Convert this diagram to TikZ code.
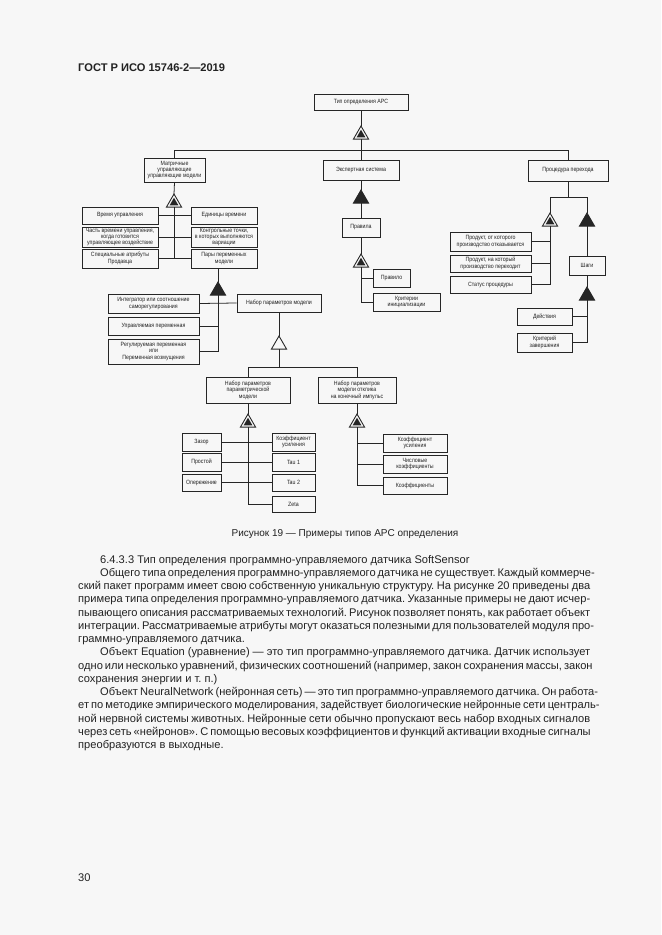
\documentclass[tikz,border=0pt]{standalone}
\usepackage{fontspec}
\setmainfont{Liberation Sans}
\newfontfamily\boxfont[FakeStretch=0.86]{Liberation Sans}
\usetikzlibrary{shapes.geometric}
\frenchspacing
\newdimen\ux \ux=0.90057pt
\definecolor{pagebg}{HTML}{F7F7F7}
\definecolor{ink}{HTML}{222222}
\tikzset{
 box/.style={draw=black!85, line width=0.9pt, inner sep=0pt, align=center, font=\boxfont\fontsize{5.5}{5.8}\selectfont, text=ink},
 ln/.style={draw=black!85, line width=0.7pt},
 triO/.style={regular polygon, regular polygon sides=3, draw=black!85, line width=0.8pt, minimum size=17.5*\ux, inner sep=0pt, outer sep=0pt},
 triF/.style={triO, fill=black!85},
 triI/.style={regular polygon, regular polygon sides=3, fill=black!85, draw=none, minimum size=10*\ux, inner sep=0pt, outer sep=0pt},
 txt/.style={anchor=base west, inner sep=0pt, font=\fontsize{10}{12}\selectfont, text=ink},
}
\newcommand\bx[6]{\node[box, minimum width={(#4-#2)*\ux}, minimum height={(#5-#3)*\ux}] (#1) at ({(#2+#4)/2},{(#3+#5)/2}) {#6};}
\newcommand\tO[3]{\node[triO, anchor=north] (#1) at (#2,#3) {};}
\newcommand\tF[3]{\node[triF, anchor=north] (#1) at (#2,#3) {};}
\newcommand\tD[3]{\node[triO, anchor=north] (#1) at (#2,#3) {}; \node[triI] (#1i) at (#1.center) {};}
\newcommand\jl[5]{\node[txt] (#1) at (#2,#3) {\makebox[#4\ux][s]{#5}};}
\begin{document}
\begin{tikzpicture}[x=0.90057pt, y=-0.90057pt]
\path[use as bounding box, fill=pagebg] (0,0) rectangle (661,935);

% header
\node[txt, font=\bfseries\fontsize{10}{12}\selectfont] (hdr) at (78,72) {ГОСТ Р ИСО 15746-2—2019};

% ---- diagram boxes ----
\bx{T}{314}{94}{408}{110}{Тип определения APC}
\bx{M}{144}{158}{205}{182}{Матричные\\управляющие\\управляющие модели}
\bx{E}{323}{160}{399}{180}{Экспертная система}
\bx{P}{528}{160}{608}{181}{Процедура перехода}

\bx{L1}{82}{207}{158}{224}{Время управления}
\bx{L2}{82}{227}{158}{247}{Часть времени управления,\\когда готовится\\управляющее воздействие}
\bx{L3}{82}{249}{158}{268}{Специальные атрибуты\\Продавца}
\bx{R1}{191}{207}{257}{224}{Единицы времени}
\bx{R2}{191}{227}{257}{247}{Контрольные точки,\\в которых выполняются\\вариации}
\bx{R3}{191}{249}{257}{268}{Пары переменных\\модели}

\bx{I1}{108}{294}{199}{313}{Интегратор или соотношение\\саморегулирования}
\bx{I2}{108}{317}{199}{335}{Управляемая переменная}
\bx{I3}{108}{339}{199}{364}{Регулируемая переменная\\или\\Переменная возмущения}
\bx{N}{237}{294}{321}{312}{Набор параметров модели}

\bx{S1}{206}{377}{290}{403}{Набор параметров\\параметрической\\модели}
\bx{S2}{318}{377}{396}{403}{Набор параметров\\модели отклика\\на конечный импульс}

\bx{A1}{182}{433}{221}{451}{Зазор}
\bx{A2}{182}{453}{221}{471}{Простой}
\bx{A3}{182}{474}{221}{491}{Опережение}
\bx{B1}{272}{433}{315}{451}{Коэффициент\\усиления}
\bx{B2}{272}{453}{315}{471}{Tau 1}
\bx{B3}{272}{474}{315}{491}{Tau 2}
\bx{B4}{272}{496}{315}{512}{Zeta}

\bx{C1}{383}{434}{447}{452}{Коэффициент\\усиления}
\bx{C2}{383}{455}{447}{473}{Числовые\\коэффициенты}
\bx{C3}{383}{477}{447}{494}{Коэффициенты}

\bx{Pr}{342}{218}{380}{237}{Правила}
\bx{Q1}{373}{269}{410}{287}{Правило}
\bx{Q2}{373}{293}{440}{311}{Критерии\\инициализации}

\bx{D1}{450}{232}{531}{251}{Продукт, от которого\\производство отказывается}
\bx{D2}{450}{255}{531}{272}{Продукт, на который\\производство переходит}
\bx{D3}{450}{276}{531}{293}{Статус процедуры}
\bx{W}{569}{256}{605}{275}{Шаги}
\bx{G1}{517}{308}{572}{325}{Действия}
\bx{G2}{517}{333}{572}{352}{Критерий\\завершения}

% ---- triangles ----
\tD{t0}{361}{126}
\tD{tm}{174}{194}
\tF{te}{361}{190}
\tF{tp}{218}{282}
\tD{tr}{361}{254}
\tO{tn}{279}{336}
\tD{tq1}{550}{213}
\tF{tq2}{587}{213}
\tF{tw}{587}{287}
\tD{ts1}{248}{414}
\tD{ts2}{357}{414}

% ---- connectors ----
\coordinate (bus1) at (0,150);
\coordinate (bus2) at (0,367);
\coordinate (bus3) at (0,197);
\draw[ln] (T.south) -- (t0.north);
\draw[ln] (t0.south) -- (E.north);
\draw[ln] (M.north) |- (bus1 -| P.north) -- (P.north);

\draw[ln] (M.south) -- (tm.north);
\draw[ln] (tm.south) -- (tm.south |- L3.east);
\draw[ln] (L1.east) -- (R1.west);
\draw[ln] (L2.east) -- (R2.west);
\draw[ln] (L3.east) -- (R3.west);
\draw[ln] (R3.south -| tp.north) -- (tp.north);
\draw[ln] (I1.east) -- (N.west);
\draw[ln] (I2.east) -- (I2.east -| tp.south);
\draw[ln] (tp.south) |- (I3.east);
\draw[ln] (N.south) -- (tn.north);
\draw[ln] (tn.south) -- (tn.south |- bus2);
\draw[ln] (S1.north) |- (bus2 -| S2.north) -- (S2.north);
\draw[ln] (S1.south) -- (ts1.north);
\draw[ln] (A1.east) -- (B1.west);
\draw[ln] (A2.east) -- (B2.west);
\draw[ln] (A3.east) -- (B3.west);
\draw[ln] (ts1.south) |- (B4.west);
\draw[ln] (S2.south) -- (ts2.north);
\draw[ln] (C1.west) -- (C1.west -| ts2.south);
\draw[ln] (C2.west) -- (C2.west -| ts2.south);
\draw[ln] (ts2.south) |- (C3.west);

\draw[ln] (E.south) -- (te.north);
\draw[ln] (te.south) -- (Pr.north);
\draw[ln] (Pr.south) -- (tr.north);
\draw[ln] (Q1.west) -- (Q1.west -| tr.south);
\draw[ln] (tr.south) |- (Q2.west);

\draw[ln] (P.south) -- (P.south |- bus3);
\draw[ln] (tq1.north) |- (bus3 -| tq2.north) -- (tq2.north);
\draw[ln] (D1.east) -- (D1.east -| tq1.south);
\draw[ln] (D2.east) -- (D2.east -| tq1.south);
\draw[ln] (tq1.south) |- (D3.east);
\draw[ln] (tq2.south) -- (W.north);
\draw[ln] (W.south) -- (tw.north);
\draw[ln] (G1.east) -- (G1.east -| tw.south);
\draw[ln] (tw.south) |- (G2.east);

% caption
\node[font=\fontsize{9}{11}\selectfont, text=ink] (cap) at (345,534) {Рисунок 19 — Примеры типов APC определения};

% body text
\node[txt] (l1) at (100,563) {6.4.3.3 Тип определения программно-управляемого датчика SoftSensor};
\jl{l2}{100}{576.25}{490}{Общего типа определения программно-управляемого датчика не существует. Каждый коммерче-}
\jl{l3}{78}{589.5}{512}{ский пакет программ имеет свою собственную уникальную структуру. На рисунке 20 приведены два}
\jl{l4}{78}{602.75}{512}{примера типа определения программно-управляемого датчика. Указанные примеры не дают исчер-}
\jl{l5}{78}{616}{512}{пывающего описания рассматриваемых технологий. Рисунок позволяет понять, как работает объект}
\jl{l6}{78}{629.25}{512}{интеграции. Рассматриваемые атрибуты могут оказаться полезными для пользователей модуля про-}
\node[txt] (l7) at (78,642.5) {граммно-управляемого датчика.};
\jl{l8}{100}{655.75}{490}{Объект Equation (уравнение) — это тип программно-управляемого датчика. Датчик использует}
\jl{l9}{78}{669}{512}{одно или несколько уравнений, физических соотношений (например, закон сохранения массы, закон}
\node[txt] (l10) at (78,682.25) {сохранения энергии и т. п.)};
\jl{l11}{100}{695.5}{490}{Объект NeuralNetwork (нейронная сеть) — это тип программно-управляемого датчика. Он работа-}
\jl{l12}{78}{708.75}{512}{ет по методике эмпирического моделирования, задействует биологические нейронные сети централь-}
\jl{l13}{78}{722}{512}{ной нервной системы животных. Нейронные сети обычно пропускают весь набор входных сигналов}
\jl{l14}{78}{735.25}{512}{через сеть «нейронов». С помощью весовых коэффициентов и функций активации входные сигналы}
\node[txt] (l15) at (78,748.5) {преобразуются в выходные.};

\node[txt] (pg) at (78,881) {30};
\end{tikzpicture}
\end{document}
